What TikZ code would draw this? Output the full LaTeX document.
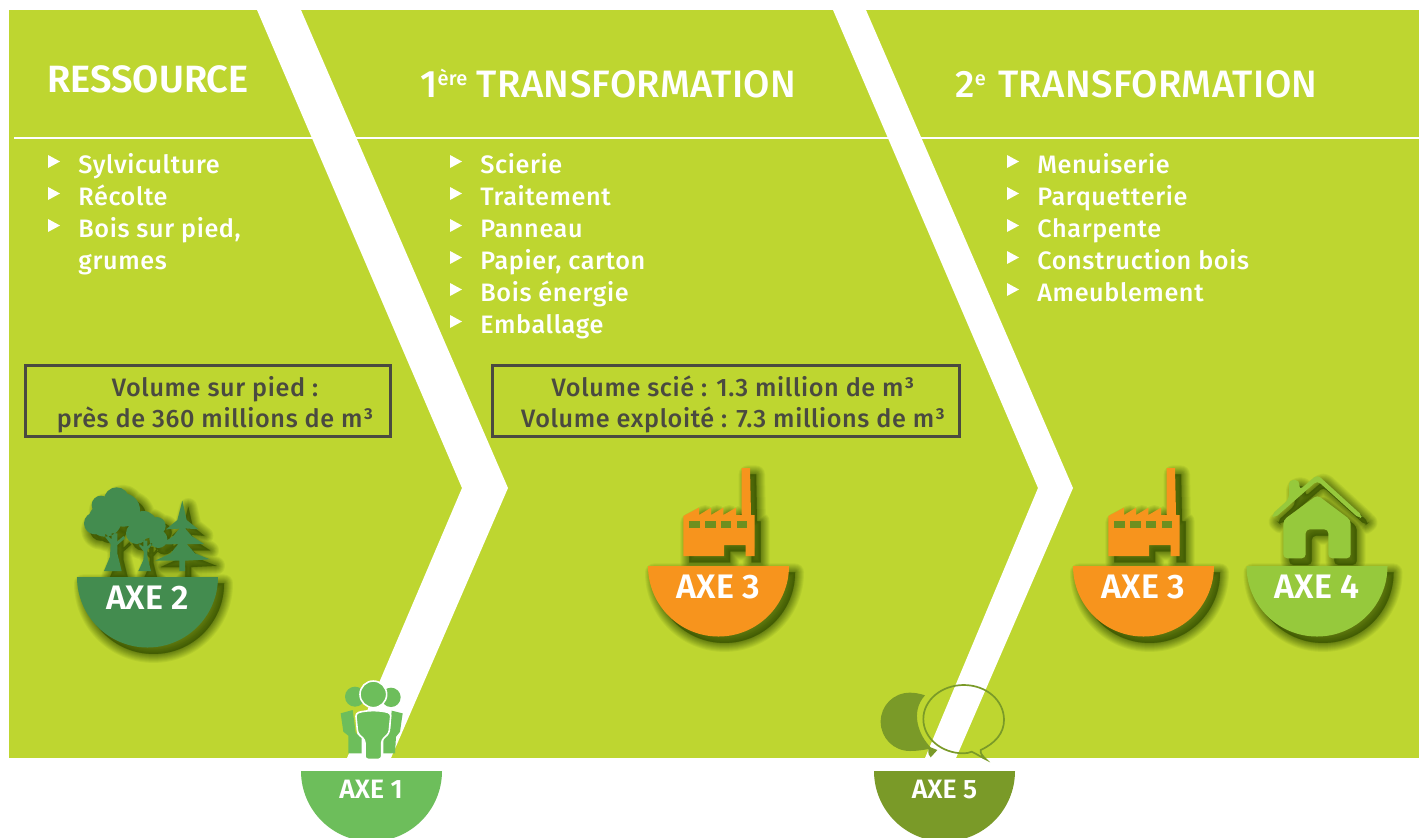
\documentclass[tikz,border=0pt]{standalone}
\usepackage{fontspec}
\setmainfont{Fira Sans}[UprightFont=* Medium,BoldFont=* SemiBold]
\newfontfamily\bodyfont{Fira Sans}[UprightFont=* Medium,LetterSpace=2.5]
\newfontfamily\titlefont{Fira Sans}[UprightFont=* Medium,LetterSpace=1]
\newfontfamily\headfont{Fira Sans}[UprightFont=* SemiBold]
\definecolor{lime}{HTML}{BED630}
\definecolor{axetwo}{HTML}{438C4F}
\definecolor{axethree}{HTML}{F7941D}
\definecolor{axefour}{HTML}{96C93C}
\definecolor{axeone}{HTML}{6DBE5B}
\definecolor{axefive}{HTML}{7A9A28}
\definecolor{shadowc}{HTML}{2F4A00}
\definecolor{inkc}{HTML}{4A4A40}
\definecolor{winc}{HTML}{6E8F1F}
\tikzset{
 bodytext/.style={anchor=base west,inner sep=0pt,text=white,font=\bodyfont\fontsize{12.6}{14}\selectfont},
 boxtext/.style={anchor=base,inner sep=0pt,text=inkc,font=\bodyfont\fontsize{12.6}{14}\selectfont},
 titletext/.style={anchor=base west,inner sep=0pt,text=white,font=\titlefont\fontsize{19.1}{20}\selectfont},
 headtext/.style={anchor=base west,inner sep=0pt,text=white,font=\headfont\fontsize{19}{20}\selectfont},
 axetext/.style={inner sep=0pt,text=white,font=\bfseries\fontsize{17}{19}\selectfont},
 axesmall/.style={inner sep=0pt,text=white,font=\bfseries\fontsize{13.3}{15}\selectfont},
 infobox/.style={draw=inkc,line width=1.5pt,fill=none},
}
\newcommand\softfill[2]{%
 \begin{scope}[shift={(3pt,-3.2pt)}]
  \foreach \w/\o in {9/.07,8/.07,7/.08,6/.08,5/.09,4/.09,3/.1,2/.1,1/.11,0.3/.12}{\path[draw=shadowc,fill=shadowc,line width=\w pt,opacity=\o,line join=round] #2;}
 \end{scope}
 \fill[#1] #2;}
\newcommand\halfdisk[4][]{\softfill{#2}{(#3-70.5,#4) arc[start angle=180,end angle=0,radius=70.5] -- cycle}}
\newcommand\bul[2]{\fill[white] (#1-1,#2-6.5) -- (#1+11,#2) -- (#1-1,#2+6.5) -- cycle;}
\newcommand\supsmall[1]{\raisebox{6pt}{\fontsize{10}{12}\selectfont #1}}
\newcommand\factoryicon[2]{%
 \begin{scope}[shift={(#1,#2)},x=.16667pt,y=-.16667pt]
  \softfill{axethree}{(130,288) -- (130,168) -- (177,143) -- (177,165) -- (213,143) -- (213,165) -- (250,143) -- (250,165) -- (288,143) -- (288,165) -- (305,165) -- (305,24) -- (330,24) -- (333,165) -- (344,165) -- (344,288) -- (317,288) -- (317,255) -- (252,255) -- (252,288) -- cycle}
  \foreach \a in {148,195,242,290}{\fill[winc] (\a,184) rectangle (\a+32,205);}
 \end{scope}}
\begin{document}
\begin{tikzpicture}[x=.5pt,y=-.5pt]
\useasboundingbox (0,0) rectangle (1419,837);
\clip (0,0) rectangle (1419,837);
\fill[white] (0,0) rectangle (1419,837);
\fill[lime] (9,10) rectangle (1419,758);
\draw[white,line width=1.25pt] (14,138) -- (1419,138);
% chevrons
\fill[white] (257,10) -- (301,10) -- (508,488) -- (391,758) -- (347,758) -- (462,488) -- cycle;
\fill[white] (833,10) -- (866,10) -- (1073,488) -- (956,758) -- (925,758) -- (1038,488) -- cycle;
% titles
\node[headtext] (t1) at (47,92) {RESSOURCE};
\node[titletext] (t2) at (420,97) {1\supsmall{ère}\hspace{-.1pt} TRANSFORMATION};
\node[titletext] (t3) at (955,97) {2\supsmall{e}\hspace{1.3pt} TRANSFORMATION};
% lists
\foreach \y in {161.5,193.5,225.5}{\bul{49}{\y}}
\node[bodytext] (a1) at (78,173) {Sylviculture};
\node[bodytext] (a2) at (78,205) {Récolte};
\node[bodytext] (a3) at (78,237) {Bois sur pied,};
\node[bodytext] (a4) at (78,269) {grumes};
\foreach \y in {161.5,193.5,225.5,257.5,289.5,321.5}{\bul{451}{\y}}
\node[bodytext] (b1) at (480,173) {Scierie};
\node[bodytext] (b2) at (480,205) {Traitement};
\node[bodytext] (b3) at (480,237) {Panneau};
\node[bodytext] (b4) at (480,269) {Papier, carton};
\node[bodytext] (b5) at (480,301) {Bois énergie};
\node[bodytext] (b6) at (480,333) {Emballage};
\foreach \y in {161.5,193.5,225.5,257.5,289.5}{\bul{1008}{\y}}
\node[bodytext] (c1) at (1037,173) {Menuiserie};
\node[bodytext] (c2) at (1037,205) {Parquetterie};
\node[bodytext] (c3) at (1037,237) {Charpente};
\node[bodytext] (c4) at (1037,269) {Construction bois};
\node[bodytext] (c5) at (1037,301) {Ameublement};
% boxes
\draw[infobox] (25,365) rectangle (390,436);
\node[boxtext] (v1) at (215,396) {Volume sur pied :};
\node[boxtext] (v2) at (215,427) {près de 360 millions de m³};
\draw[infobox] (492,365) rectangle (959,436);
\node[boxtext] (v3) at (733,396) {Volume scié : 1.3 million de m³};
\node[boxtext] (v4) at (733,427) {Volume exploité : 7.3 millions de m³};
% trees
\begin{scope}[shift={(40,470)},x=.16667pt,y=-.16667pt]
 \softfill{axetwo}{(230,90) circle[radius=38] (183,105) circle[radius=28] (165,160) circle[radius=33] (250,120) circle[radius=50] (195,150) circle[radius=50]
  (192,303) -- (245,303) -- (232,250) -- (232,225) -- (255,205) -- (250,198) -- (232,215) -- (232,190) -- (215,190) -- (215,208) -- (195,190) -- (195,200) -- (212,222) -- (210,260) -- cycle
  (310,165) circle[radius=42] (350,168) circle[radius=27] (355,207) circle[radius=27] (290,190) circle[radius=32]
  (295,303) -- (333,303) -- (322,260) -- (322,240) -- (338,222) -- (333,218) -- (322,230) -- (322,212) -- (310,212) -- (310,230) -- (298,222) -- (298,228) -- (312,245) -- (310,270) -- cycle
  (427,92) -- (440,150) -- (475,178) -- (435,175) -- (455,198) -- (492,222) -- (440,222) -- (465,250) -- (510,268) -- (435,272) -- (435,303) -- (418,303) -- (418,272) -- (345,272) -- (392,250) -- (415,222) -- (362,224) -- (400,198) -- (418,176) -- (378,178) -- (412,150) -- cycle}
\end{scope}
\factoryicon{640}{460}
\factoryicon{1065}{460}
% house
\begin{scope}[shift={(1230,460)},x=.16667pt,y=-.16667pt]
 \softfill{axefour}{[rounded corners=2pt] (160,180) -- (262,105) -- (362,180) -- (362,295) -- (295,295) -- (295,208) -- (227,208) -- (227,295) -- (160,295) -- cycle
  (124,165) -- (177,117) -- (177,60) -- (208,60) -- (208,90) -- (262,44) -- (398,168) -- (388,176) -- (262,62) -- (134,174) -- cycle}
\end{scope}
% half disks
\halfdisk{axetwo}{147.5}{577}
\halfdisk{axethree}{718.5}{566}
\halfdisk{axethree}{1143.5}{566}
\halfdisk{axefour}{1317}{566}
\node[axetext] (ax2) at (147.5,598) {AXE 2};
\node[axetext] (ax3) at (718.5,587) {AXE 3};
\node[axetext] (ax3b) at (1143.5,587) {AXE 3};
\node[axetext] (ax4) at (1317,587) {AXE 4};
% axe 1
\fill[axeone] (301,771) arc[start angle=180,end angle=0,radius=70.5] -- cycle;
\node[axesmall] (ax1) at (371,789) {AXE 1};
\begin{scope}[shift={(290,670)},x=.16667pt,y=-.16667pt]
 \fill[axeone] (195,80) circle[radius=30] (303,82) circle[radius=29];
 \fill[axeone] (152,130) -- (188,120) -- (197,188) -- (215,205) -- (215,250) -- (175,250) -- (175,197) -- (160,185) -- cycle;
 \fill[axeone] (338,130) -- (305,122) -- (300,185) -- (280,205) -- (280,250) -- (315,250) -- (318,200) -- (330,185) -- cycle;
 \filldraw[axeone,draw=white,line width=.8pt] (250,73) circle[radius=40];
 \filldraw[axeone,draw=white,line width=.8pt,rounded corners=1.5pt] (197,130) .. controls (230,120) and (270,120) .. (303,130) -- (297,190) -- (275,210) -- (275,268) -- (225,268) -- (225,210) -- (203,190) -- cycle;
\end{scope}
% axe 5
\fill[axefive] (874,771) arc[start angle=180,end angle=0,radius=70.5] -- cycle;
\node[axesmall] (ax5) at (944.5,789) {AXE 5};
\begin{scope}[shift={(860,670)},x=.16667pt,y=-.16667pt]
 \fill[axefive] (195,76) .. controls (180,71) and (165,68) .. (150,68) .. controls (100,68) and (62,107) .. (62,155) .. controls (62,203) and (100,243) .. (150,243) .. controls (170,243) and (190,240) .. (205,237) .. controls (205,250) and (205,258) .. (212,262) -- (232,240) -- (212,232) .. controls (175,195) and (150,125) .. (195,76) -- cycle;
 \draw[axefive,line width=.85pt] (362,240) .. controls (405,220) and (432,190) .. (432,150) .. controls (432,90) and (378,45) .. (311,45) .. controls (245,45) and (190,90) .. (190,147) .. controls (190,205) and (245,250) .. (311,250) .. controls (320,250) and (328,248) .. (335,245) .. controls (350,252) and (365,262) .. (378,268) .. controls (368,258) and (360,250) .. (362,240) -- cycle;
\end{scope}
\end{tikzpicture}
\end{document}
